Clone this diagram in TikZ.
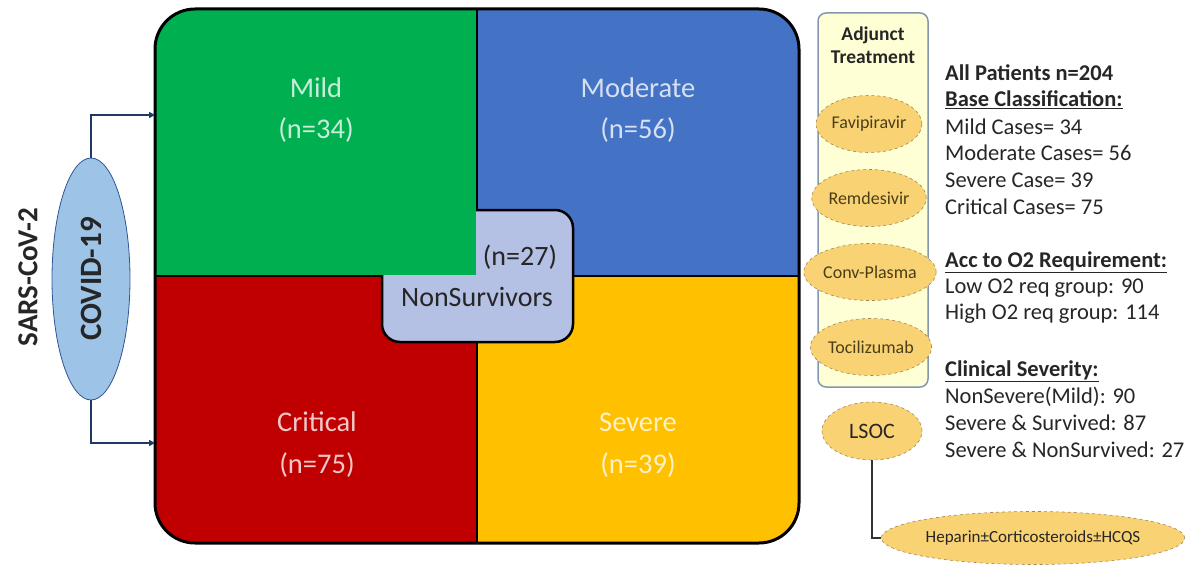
\documentclass[tikz,border=0pt]{standalone}
\usepackage{fontspec}
\setmainfont{Carlito}
\usetikzlibrary{shapes.geometric,arrows.meta}
\definecolor{cgreen}{HTML}{00B050}
\definecolor{cblue}{HTML}{4472C4}
\definecolor{cred}{HTML}{C00000}
\definecolor{cyellow}{HTML}{FFC000}
\definecolor{nsfill}{HTML}{B4C0E4}
\definecolor{covfill}{HTML}{9DC3E6}
\definecolor{covline}{HTML}{2F5597}
\definecolor{navy}{HTML}{1F3864}
\definecolor{panelfill}{HTML}{FFFFD5}
\definecolor{panelline}{HTML}{8497B0}
\definecolor{ovfill}{HTML}{F9D273}
\definecolor{ovline}{HTML}{A08850}
\definecolor{txt}{HTML}{262626}
\definecolor{drugtxt}{HTML}{4A3F1A}
\newcommand{\myfs}[1]{\fontsize{#1}{#1}\selectfont}
\begin{document}
\begin{tikzpicture}[x=1pt,y=-1pt,
  qlabel/.style={text=white, text opacity=0.78, font=\myfs{28.5}, inner sep=0},
  divider/.style={line width=2.5pt, black},
  conn/.style={line width=1.8pt, navy, -{Triangle[length=6pt,width=6pt]}},
  oval/.style={ellipse, draw=ovline, dashed, line width=0.6pt, fill=ovfill, inner sep=0, text=txt},
  drug/.style={oval, minimum width=104, minimum height=57, font=\myfs{18}, text=drugtxt},
  info/.style={anchor=west, inner sep=0, text=txt, font=\myfs{22.5}},
  infohead/.style={info, font=\myfs{22.5}\bfseries},
  link/.style={line width=1.4pt, black!80}]
\useasboundingbox (0,0) rectangle (1191,567);
% big box
\node[minimum width=644, minimum height=534, inner sep=0] (big) at (477,276) {};
\begin{scope}
  \clip[rounded corners=40] (155,9) rectangle (799,543);
  \fill[cgreen] (155,9) rectangle (477,276);
  \fill[cblue] (477,9) rectangle (799,276);
  \fill[cred] (155,276) rectangle (477,543);
  \fill[cyellow] (477,276) rectangle (799,543);
  \draw[divider] (477,9) -- (477,543);
  \draw[divider] (155,276) -- (799,276);
\end{scope}
% nonsurvivors box
\node[draw=black, line width=2.5pt, fill=nsfill, rounded corners=18, minimum width=191, minimum height=132, inner sep=0] (ns) at (477.5,276) {};
\begin{scope}
  \clip[rounded corners=40] (155,9) rectangle (799,543);
  \fill[cgreen] (155,9) rectangle (475.8,274.8);
\end{scope}
\draw[line width=3pt, rounded corners=40] (155,9) rectangle (799,543);
\node[font=\myfs{28}, text=txt, inner sep=0] (nsn) at (520,257) {(n=27)};
\node[font=\myfs{28}, text=txt, inner sep=0] (nsl) at (477,297) {NonSurvivors};
% quadrant labels
\node[qlabel] (mild) at (316,88) {Mild};
\node[qlabel] (mildn) at (316,130) {(n=34)};
\node[qlabel] (mod) at (638,88) {Moderate};
\node[qlabel] (modn) at (638,130) {(n=56)};
\node[qlabel] (crit) at (317,422) {Critical};
\node[qlabel] (critn) at (317,465) {(n=75)};
\node[qlabel] (sev) at (638,422) {Severe};
\node[qlabel] (sevn) at (638,465) {(n=39)};
% covid
\node[ellipse, draw=covline, line width=0.8pt, fill=covfill, minimum width=78, minimum height=242, inner sep=0, font=\myfs{31}\bfseries, text=txt] (cov) at (91,279) {\rotatebox{90}{COVID-19}};
\node[font=\myfs{29}\bfseries, text=txt, rotate=90, inner sep=0] (sars) at (28,277) {SARS-CoV-2};
\coordinate (mildin) at (155,115);
\coordinate (critin) at (155,443);
\draw[conn] (cov.north) |- (mildin);
\draw[conn] (cov.south) |- (critin);
% adjunct panel
\node[draw=panelline, line width=1.5pt, fill=panelfill, rounded corners=8, minimum width=110, minimum height=374, inner sep=0] (adj) at (873,200) {};
\node[font=\myfs{19.5}\bfseries, text=txt, align=center, inner sep=0] (adjt) at (873,45) {Adjunct\\[4pt]Treatment};
\node[drug] (fav) at (869,124) {Favipiravir};
\node[drug] (rem) at (869,198) {Remdesivir};
\node[drug] (conv) at (870,272) {Conv-Plasma};
\node[drug] (toc) at (871,347) {Tocilizumab};
\node[oval, minimum width=100, minimum height=58, font=\myfs{22}] (lsoc) at (872,431) {LSOC};
\node[oval, minimum width=277, minimum height=53, font=\myfs{17}] (hep) at (1033,538) {Heparin±Corticosteroids±HCQS};
\draw[link] (lsoc.south) |- (hep.west);
% info text
\node[infohead] (t1) at (945,73) {All Patients n=204};
\node[infohead] (t2) at (945,100) {\underline{Base Classification:}};
\node[info] (t3) at (945,127) {Mild Cases= 34};
\node[info] (t4) at (945,153) {Moderate Cases= 56};
\node[info] (t5) at (945,180) {Severe Case= 39};
\node[info] (t6) at (945,207) {Critical Cases= 75};
\node[infohead] (t7) at (945,262) {\underline{Acc to O2 Requirement:}};
\node[info] (t8) at (945,288) {Low O2 req group: 90};
\node[info] (t9) at (945,314) {High O2 req group: 114};
\node[infohead] (t10) at (945,371) {\underline{Clinical Severity:}};
\node[info] (t11) at (945,397) {NonSevere(Mild): 90};
\node[info] (t12) at (945,423) {Severe \& Survived: 87};
\node[info] (t13) at (945,450) {Severe \& NonSurvived: 27};
\end{tikzpicture}
\end{document}
